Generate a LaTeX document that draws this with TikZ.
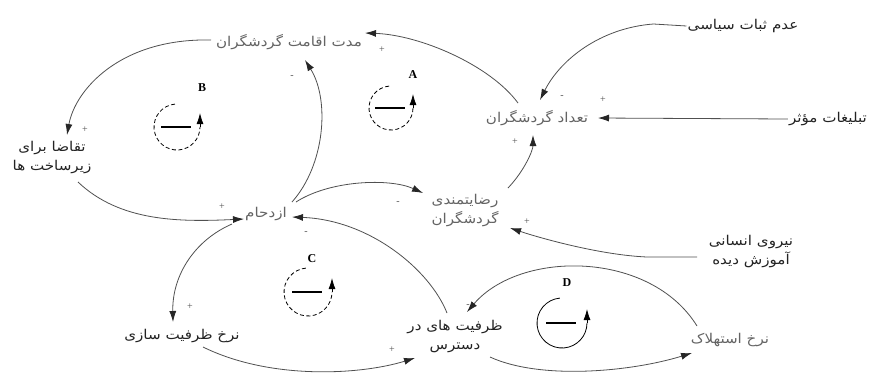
\documentclass[tikz,border=0pt]{standalone}
\usepackage{fontspec}
\setmainfont{Liberation Serif}
\newfontfamily\arabicfont[Script=Arabic,FakeStretch=1.12]{DejaVu Sans}
\TeXXeTstate=1
\usetikzlibrary{arrows.meta,calc}
\definecolor{edgec}{RGB}{80,80,80}
\definecolor{txtdark}{RGB}{35,35,35}
\definecolor{txtgrey}{RGB}{100,100,100}
\newcommand\faR[1]{\beginR #1\endR}
\tikzset{
  var/.style={font=\arabicfont\fontsize{13.5}{19}\selectfont, text=txtdark, inner sep=1pt, align=center},
  gvar/.style={var, text=txtgrey},
  link/.style={draw=edgec, line width=0.8pt, -{Latex[length=11pt,width=7pt,color=black!85]}},
  sgn/.style={font=\fontsize{10}{10}\selectfont, text=edgec, inner sep=0pt},
  looplbl/.style={font=\bfseries\fontsize{12}{12}\selectfont, inner sep=0pt},
  loopdash/.style={dash pattern=on 4pt off 2.5pt},
}
\newcommand\loopmark[4]{%
  \draw[#4, line width=0.8pt] (#1,#2) ++(-95:#3) arc[start angle=-95, end angle=-360, radius=#3];
  \draw[line width=0.8pt, -{Latex[length=11pt,width=7pt]}] (#1+#3,#2) -- (#1+#3,#2-14);
  \draw[line width=1.4pt] (#1-16,#2) -- (#1+14,#2);
}
\begin{document}
\begin{tikzpicture}[x=1pt,y=-1pt]
\fill[white] (0,0) rectangle (870,373);
\useasboundingbox (0,0) rectangle (870,373);

% variables
\node[gvar] (m)    at (289,42)  {\faR{مدت اقامت گردشگران}};
\node[var]  (adam) at (743,26)  {\faR{عدم ثبات سیاسی}};
\node[gvar] (t)    at (537,118) {\faR{تعداد گردشگران}};
\node[var, anchor=east] (tab) at (868,119) {\faR{تبلیغات مؤثر}};
\node[var]  (taq)  at (52,158)  {\faR{تقاضا برای}\\\faR{زیرساخت ها}};
\node[gvar] (az)   at (266,214) {\faR{ازدحام}};
\node[gvar] (rez)  at (465,211) {\faR{رضایتمندی}\\\faR{گردشگران}};
\node[var]  (niru) at (751,252) {\faR{نیروی انسانی}\\\faR{آموزش دیده}};
\node[var]  (nz)   at (182,336) {\faR{نرخ ظرفیت سازی}};
\node[var]  (zd)   at (455,337) {\faR{ظرفیت های در}\\\faR{دسترس}};
\node[gvar] (ne)   at (730,340) {\faR{نرخ استهلاک}};

% connectors
\draw[link] ($(t)+(-19,-15)$) .. controls (490,65) and (420,35) .. ($(m)+(76,-9)$);
\draw[link] ($(m)+(-78,-2)$) .. controls (120,38) and (75,90) .. ($(taq)+(15,-23)$);
\draw[link] ($(taq)+(26,24)$) .. controls (120,222) and (180,222) .. ($(az)+(-22,5)$);
\draw[link] ($(az)+(26,-12)$) .. controls (325,165) and (330,100) .. ($(m)+(16,18)$);
\draw[link] ($(az)+(30,-12)$) .. controls (330,180) and (390,178) .. ($(rez)+(-42,-18)$);
\draw[link] ($(rez)+(43,-23)$) .. controls (525,170) and (533,150) .. ($(t)+(-4,17)$);
\draw[link] (adam.west) -- ++(-33,-2) .. controls (600,28) and (560,60) .. ($(t)+(3,-18)$);
\draw[link] (tab.west) -- ($(t)+(61,0)$);
\draw[link] ($(niru)+(-54,5)$) -- ++(-50,0) .. controls (600,255) and (540,238) .. ($(rez)+(45,17)$);
\draw[link] ($(az)+(-34,10)$) .. controls (195,240) and (172,275) .. ($(nz)+(-9,-14)$);
\draw[link] ($(nz)+(21,11)$) .. controls (270,380) and (360,375) .. ($(zd)+(-40,21)$);
\draw[link] ($(zd)+(-8,-24)$) .. controls (430,270) and (370,220) .. ($(az)+(26,3)$);
\draw[link] ($(ne)+(-33,-14)$) .. controls (650,250) and (520,250) .. ($(zd)+(12,-25)$);
\draw[link] ($(zd)+(35,20)$) .. controls (540,380) and (630,372) .. ($(ne)+(-38,13)$);

% polarity signs
\node[sgn] (s1)  at (382,50)  {+};
\node[sgn] (s2)  at (85,130)  {+};
\node[sgn] (s3)  at (562,97)  {-};
\node[sgn] (s4)  at (603,100) {+};
\node[sgn] (s5)  at (292,77)  {-};
\node[sgn] (s6)  at (222,207) {+};
\node[sgn] (s7)  at (398,203) {-};
\node[sgn] (s8)  at (515,142) {+};
\node[sgn] (s9)  at (527,222) {+};
\node[sgn] (s10) at (306,233) {-};
\node[sgn] (s11) at (190,307) {+};
\node[sgn] (s12) at (392,350) {+};
\node[sgn] (s13) at (468,306) {-};

% loop markers
\node[looplbl] (la) at (413,75)  {A};
\node[looplbl] (lb) at (202,88)  {B};
\node[looplbl] (lc) at (312,259) {C};
\node[looplbl] (ld) at (567,283) {D};
\loopmark{391}{108}{22}{loopdash}
\loopmark{177}{127}{23}{loopdash}
\loopmark{308}{292}{24}{loopdash}
\loopmark{562}{323}{25}{}
\end{tikzpicture}
\end{document}
